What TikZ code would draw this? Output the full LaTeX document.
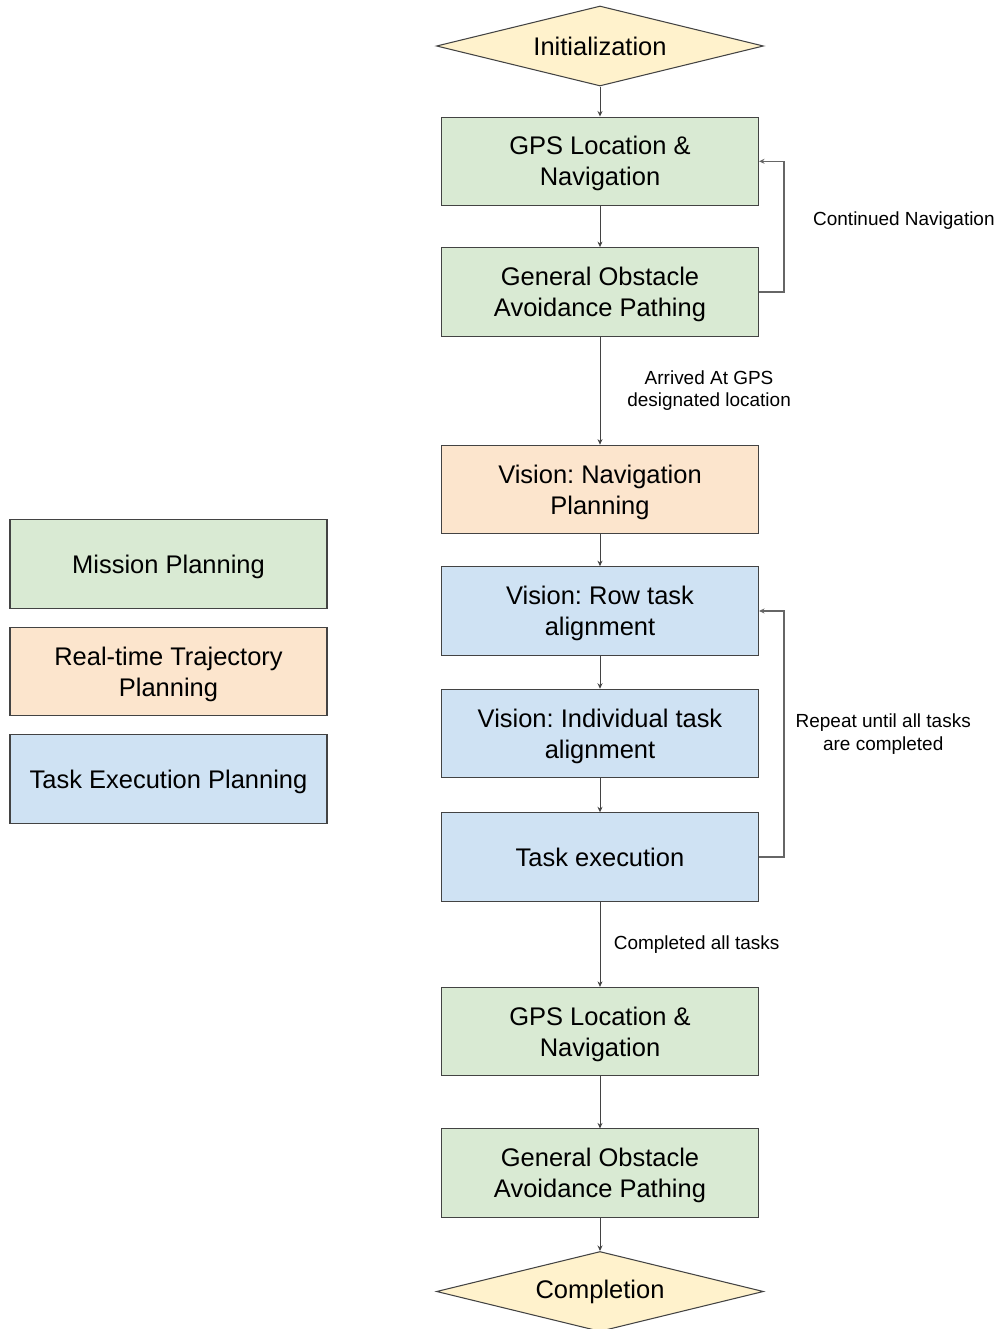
\documentclass[tikz,border=0pt]{standalone}
\usepackage{fontspec}
\setmainfont{Liberation Sans}
\frenchspacing
\usetikzlibrary{positioning,shapes.geometric,arrows.meta}

\definecolor{mission}{HTML}{D9EAD3}
\definecolor{trajectory}{HTML}{FCE5CD}
\definecolor{taskexec}{HTML}{CFE2F3}
\definecolor{terminal}{HTML}{FFF2CC}
\definecolor{edgegray}{HTML}{434343}
\definecolor{loopgray}{HTML}{666666}

\tikzset{
  box/.style={draw=edgegray, line width=0.6pt, rectangle, align=center,
              minimum width=6.34cm, minimum height=1.77cm,
              text height=28pt, text depth=0pt,
              font=\fontsize{14.5}{17.6}\selectfont},
  onebox/.style={box, text height=10.4pt},
  terminalbox/.style={draw=edgegray, line width=0.6pt, diamond, fill=terminal,
              aspect=4, inner sep=0pt, minimum width=6.54cm, minimum height=1.6cm,
              font=\fontsize{14.5}{17.6}\selectfont},
  lbl/.style={align=center, font=\fontsize{10.8}{13}\selectfont},
  flow/.style={draw=edgegray, line width=0.5pt, -{Stealth[length=1.1mm,width=1mm]}},
  loopline/.style={draw=loopgray, line width=0.9pt, -{Stealth[length=1.1mm,width=1mm]}}
}

\begin{document}
\begin{tikzpicture}
	\useasboundingbox (0,0) rectangle (19.98,-26.58);

	% Flujo principal
	\node[terminalbox] (init) at (12.0,-0.92) {Initialization};
	\node[box, fill=mission, below=0.60cm of init] (gps1) {GPS Location \&\\ Navigation};
	\node[box, fill=mission, below=0.82cm of gps1] (goap1) {General Obstacle\\ Avoidance Pathing};
	\node[box, fill=trajectory, below=2.16cm of goap1] (vnp) {Vision: Navigation\\ Planning};
	\node[box, fill=taskexec, below=0.64cm of vnp] (rowt) {Vision: Row task\\ alignment};
	\node[box, fill=taskexec, below=0.66cm of rowt] (indt) {Vision: Individual task\\ alignment};
	\node[onebox, fill=taskexec, below=0.68cm of indt] (texe) {Task execution};
	\node[box, fill=mission, below=1.70cm of texe] (gps2) {GPS Location \&\\ Navigation};
	\node[box, fill=mission, below=1.04cm of gps2] (goap2) {General Obstacle\\ Avoidance Pathing};
	\node[terminalbox, below=0.66cm of goap2] (compl) {Completion};

	% Leyenda
	\node[onebox, fill=mission] (legm) at (3.37,-11.28) {Mission Planning};
	\node[box, fill=trajectory, below=0.36cm of legm] (legr) {Real-time Trajectory\\ Planning};
	\node[onebox, fill=taskexec, below=0.36cm of legr] (legt) {Task Execution Planning};

	% Conectores
	\draw[flow] (init) -- (gps1);
	\draw[flow] (gps1) -- (goap1);
	\draw[flow] (goap1) -- node[lbl, right=0.42cm] (arrlbl) {Arrived At GPS\\ designated location} (vnp);
	\draw[flow] (vnp) -- (rowt);
	\draw[flow] (rowt) -- (indt);
	\draw[flow] (indt) -- (texe);
	\draw[flow] (texe) -- node[lbl, right=0.15cm] (donelbl) {Completed all tasks} (gps2);
	\draw[flow] (gps2) -- (goap2);
	\draw[flow] (goap2) -- (compl);

	% Bucles
	\draw[loopline] (goap1.east) -- ++(0.5,0) |- node[lbl, pos=0.25, right=0.45cm, yshift=0.12cm] (navlbl) {Continued Navigation} (gps1.east);
	\draw[loopline] (texe.east) -- ++(0.5,0) |- node[lbl, pos=0.25, right=0.1cm] (replbl) {Repeat until all tasks\\ are completed} (rowt.east);
\end{tikzpicture}
\end{document}
